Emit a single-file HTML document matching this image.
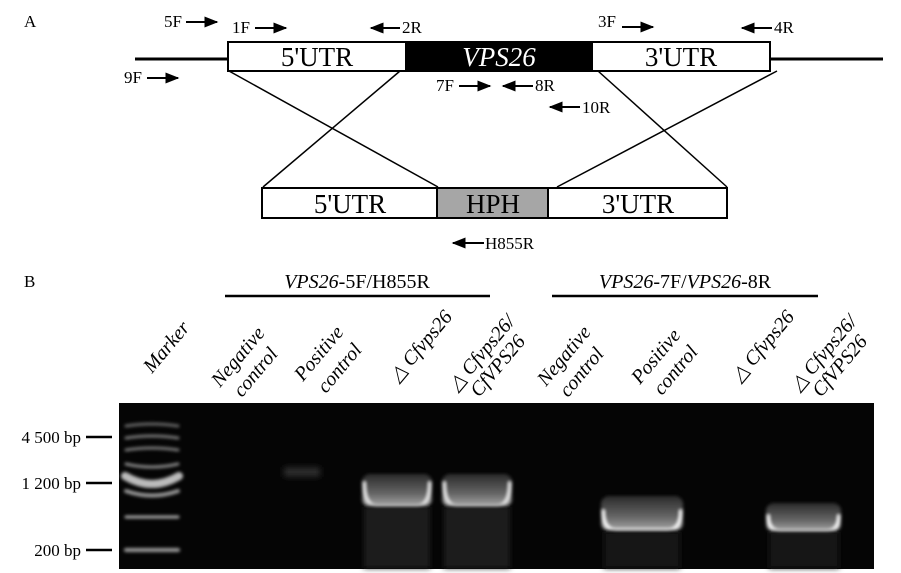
<!DOCTYPE html>
<html><head><meta charset="utf-8"><style>
html,body{margin:0;padding:0;background:#fff;}
svg{display:block;font-family:"Liberation Serif",serif;}
</style></head><body>
<svg width="901" height="573" viewBox="0 0 901 573" xmlns="http://www.w3.org/2000/svg">
<defs>
<filter id="b1" x="-20%" y="-50%" width="140%" height="200%"><feGaussianBlur stdDeviation="1.5"/></filter>
<filter id="b2" x="-20%" y="-50%" width="140%" height="200%"><feGaussianBlur stdDeviation="3"/></filter>
<linearGradient id="bg" x1="0" y1="0" x2="0" y2="1"><stop offset="0" stop-color="#2a2a2a"/><stop offset="0.6" stop-color="#666"/><stop offset="1" stop-color="#aaa"/></linearGradient>
<marker id="ah" viewBox="0 0 10 10" refX="9" refY="5" markerWidth="7" markerHeight="7" orient="auto"><path d="M0,1 L10,5 L0,9 z" fill="#000"/></marker>
</defs>
<g font-size="17">
<text x="24" y="27">A</text>
<text x="164" y="27">5F</text><line x1="186" y1="22" x2="217" y2="22" stroke="#000" stroke-width="2" marker-end="url(#ah)"/>
<text x="232" y="33">1F</text><line x1="255" y1="28" x2="286" y2="28" stroke="#000" stroke-width="2" marker-end="url(#ah)"/>
<line x1="400" y1="28" x2="371" y2="28" stroke="#000" stroke-width="2" marker-end="url(#ah)"/><text x="402" y="33">2R</text>
<text x="598" y="27">3F</text><line x1="622" y1="27" x2="653" y2="27" stroke="#000" stroke-width="2" marker-end="url(#ah)"/>
<line x1="772" y1="28" x2="742" y2="28" stroke="#000" stroke-width="2" marker-end="url(#ah)"/><text x="774" y="33">4R</text>
<text x="124" y="83">9F</text><line x1="147" y1="78" x2="178" y2="78" stroke="#000" stroke-width="2" marker-end="url(#ah)"/>
<text x="436" y="91">7F</text><line x1="459" y1="86" x2="490" y2="86" stroke="#000" stroke-width="2" marker-end="url(#ah)"/>
<line x1="533" y1="86" x2="503" y2="86" stroke="#000" stroke-width="2" marker-end="url(#ah)"/><text x="535" y="91">8R</text>
<line x1="580" y1="107" x2="550" y2="107" stroke="#000" stroke-width="2" marker-end="url(#ah)"/><text x="582" y="113">10R</text>
<line x1="484" y1="243" x2="453" y2="243" stroke="#000" stroke-width="2" marker-end="url(#ah)"/><text x="485" y="249">H855R</text>
</g>
<line x1="135" y1="59" x2="227" y2="59" stroke="#000" stroke-width="3"/>
<line x1="770" y1="59" x2="883" y2="59" stroke="#000" stroke-width="3"/>
<rect x="228" y="42" width="178" height="29" fill="#fff" stroke="#000" stroke-width="2"/>
<rect x="406" y="42" width="186" height="29" fill="#000" stroke="#000" stroke-width="2"/>
<rect x="592" y="42" width="178" height="29" fill="#fff" stroke="#000" stroke-width="2"/>
<g font-size="27" text-anchor="middle">
<text x="317" y="66">5'UTR</text>
<text x="499" y="66" fill="#fff" font-style="italic">VPS26</text>
<text x="681" y="66">3'UTR</text>
</g>
<g stroke="#000" stroke-width="1.5">
<line x1="229" y1="71" x2="438" y2="187"/>
<line x1="400" y1="71" x2="263" y2="187"/>
<line x1="598" y1="71" x2="727" y2="187"/>
<line x1="777" y1="71" x2="557" y2="187"/>
</g>
<rect x="262" y="188" width="175" height="30" fill="#fff" stroke="#000" stroke-width="2"/>
<rect x="437" y="188" width="111" height="30" fill="#a6a6a6" stroke="#000" stroke-width="2"/>
<rect x="548" y="188" width="179" height="30" fill="#fff" stroke="#000" stroke-width="2"/>
<g font-size="27" text-anchor="middle">
<text x="350" y="213">5'UTR</text>
<text x="493" y="213">HPH</text>
<text x="638" y="213">3'UTR</text>
</g>
<text x="24" y="287" font-size="17">B</text>
<g font-size="20" text-anchor="middle">
<text x="357" y="288"><tspan font-style="italic">VPS26</tspan>-5F/H855R</text>
<text x="685" y="288"><tspan font-style="italic">VPS26</tspan>-7F/<tspan font-style="italic">VPS26</tspan>-8R</text>
</g>
<line x1="225" y1="296" x2="490" y2="296" stroke="#000" stroke-width="2.5"/>
<line x1="552" y1="296" x2="818" y2="296" stroke="#000" stroke-width="2.5"/>
<g font-size="20" font-style="italic">
<text transform="translate(152,374) rotate(-50)">Marker</text>
<text transform="translate(220,388) rotate(-50)">Negative</text>
<text transform="translate(242,398) rotate(-50)">control</text>
<text transform="translate(303,382) rotate(-50)">Positive</text>
<text transform="translate(326,394) rotate(-50)">control</text>
<text transform="translate(398,383) rotate(-50)">△ Cfvps26</text>
<text transform="translate(457,392) rotate(-50)">△ Cfvps26/</text>
<text transform="translate(479,398) rotate(-50)">CfVPS26</text>
<text transform="translate(546,387) rotate(-50)">Negative</text>
<text transform="translate(568,398) rotate(-50)">control</text>
<text transform="translate(640,385) rotate(-50)">Positive</text>
<text transform="translate(662,396) rotate(-50)">control</text>
<text transform="translate(740,383) rotate(-50)">△ Cfvps26</text>
<text transform="translate(799,392) rotate(-50)">△ Cfvps26/</text>
<text transform="translate(821,398) rotate(-50)">CfVPS26</text>
</g>
<g font-size="17" text-anchor="end">
<text x="81" y="443">4 500 bp</text>
<text x="81" y="489">1 200 bp</text>
<text x="81" y="556">200 bp</text>
</g>
<g stroke="#000" stroke-width="2.5">
<line x1="86" y1="437" x2="112" y2="437"/>
<line x1="86" y1="483" x2="112" y2="483"/>
<line x1="86" y1="550" x2="112" y2="550"/>
</g>
<rect x="119" y="403" width="755" height="166" fill="#050505"/>
<g filter="url(#b1)" fill="none" stroke-linecap="round">
<path d="M126,426 Q152,422 178,426" stroke="#666" stroke-width="3"/>
<path d="M126,438 Q152,434 178,438" stroke="#777" stroke-width="3"/>
<path d="M126,450 Q152,446 178,450" stroke="#777" stroke-width="3"/>
<path d="M126,464 Q152,470 178,464" stroke="#888" stroke-width="3"/>
<path d="M125,476 Q152,492 179,476" stroke="#bbb" stroke-width="8"/>
<path d="M126,491 Q152,500 178,491" stroke="#999" stroke-width="4"/>
<line x1="126" y1="517" x2="178" y2="517" stroke="#aaa" stroke-width="3"/>
<line x1="126" y1="550" x2="178" y2="550" stroke="#999" stroke-width="4"/>
</g>
<rect x="284" y="467" width="36" height="10" fill="#2a2a2a" filter="url(#b2)"/>
<g filter="url(#b1)">
<rect x="362" y="474" width="70" height="33" rx="8" fill="url(#bg)"/>
<rect x="442" y="474" width="70" height="33" rx="8" fill="url(#bg)"/>
<path d="M364,482 Q364,505 376,506 L418,506 Q430,505 430,482" fill="none" stroke="#eee" stroke-width="3"/>
<path d="M444,482 Q444,505 456,506 L498,506 Q510,505 510,482" fill="none" stroke="#eee" stroke-width="3"/>
<rect x="601" y="496" width="82" height="35" rx="8" fill="url(#bg)"/>
<rect x="766" y="503" width="75" height="29" rx="8" fill="url(#bg)"/>
<path d="M603,510 Q603,530 616,530 L668,530 Q681,530 681,510" fill="none" stroke="#fff" stroke-width="3"/>
<path d="M768,515 Q768,531 780,531 L827,531 Q839,531 839,515" fill="none" stroke="#fff" stroke-width="3"/>
</g>
<rect x="364" y="507" width="66" height="61" fill="#1a1a1a" filter="url(#b2)"/>
<rect x="444" y="507" width="66" height="61" fill="#1a1a1a" filter="url(#b2)"/>
<rect x="604" y="532" width="76" height="36" fill="#121212" filter="url(#b2)"/>
<rect x="769" y="532" width="70" height="36" fill="#121212" filter="url(#b2)"/>
</svg>
</body></html>
